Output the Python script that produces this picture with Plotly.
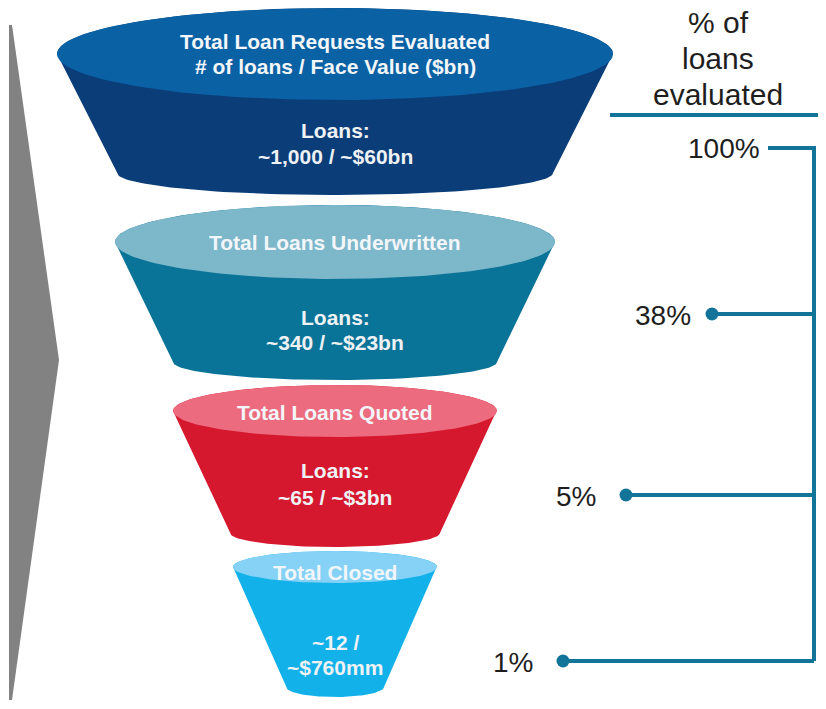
import numpy as np
import plotly.graph_objects as go

# ---- data ----
stage_titles = [["Total Loan Requests Evaluated", "# of loans / Face Value ($bn)"],
                ["Total Loans Underwritten"],
                ["Total Loans Quoted"],
                ["Total Closed"]]
stage_values = [["Loans:", "~1,000 / ~$60bn"],
                ["Loans:", "~340 / ~$23bn"],
                ["Loans:", "~65 / ~$3bn"],
                ["~12 /", "~$760mm"]]
pct_labels = ["100%", "38%", "5%", "1%"]
header_lines = ["% of", "loans", "evaluated"]

# ---- styling / geometry (pixel space) ----
W, H = 826, 709
OFF = 8  # page body margin
CX = 335
top_ell = [(54, 278, 46), (242, 220, 37), (411, 162, 26), (567, 102, 16)]   # cy, a, b
bot_ell = [(173, 218, 22), (362, 162, 18), (533, 105, 14), (687, 49, 10)]
top_cols = ["#0a61a4", "#7db7ca", "#ec6b7e", "#85d2f6"]
body_cols = ["#0b3d79", "#0a7398", "#d6182f", "#13b1ea"]
title_y = [[41, 66], [242], [412], [572]]
value_y = [[130, 156], [317, 342], [470, 497], [642, 667]]
pct_y = [148, 314, 495, 661]
pct_x_right = [None, 693, 598, 535]
dot_x = [None, 712, 626, 563]
LINE = "#13749a"
VX = 814
FONT = "Liberation Sans, Arial"

fig = go.Figure()

# gray chevron
fig.add_trace(go.Scatter(x=[9, 12, 59, 12, 9, 9], y=[25, 25, 360, 700, 700, 25],
                         fill="toself", fillcolor="#828282", mode="lines",
                         line=dict(width=0), hoverinfo="skip", showlegend=False))

for i in range(4):
    cyt, at, bt = top_ell[i]
    cyb, ab, bb = bot_ell[i]
    th = np.linspace(np.pi, 0, 80)
    bx = CX + ab * np.cos(th)
    by = cyb + bb * np.sin(th)
    tx = CX + at * np.cos(np.linspace(0, np.pi, 80))
    ty = cyt - bt * np.sin(np.linspace(0, np.pi, 80))
    xs = np.concatenate([[CX - at], bx, [CX + at], tx])
    ys = np.concatenate([[cyt], by, [cyt], ty])
    fig.add_trace(go.Scatter(x=xs, y=ys, fill="toself", fillcolor=body_cols[i],
                             mode="lines", line=dict(width=0), hoverinfo="skip",
                             showlegend=False))
    t = np.linspace(0, 2 * np.pi, 160)
    fig.add_trace(go.Scatter(x=CX + at * np.cos(t), y=cyt + bt * np.sin(t),
                             fill="toself", fillcolor=top_cols[i], mode="lines",
                             line=dict(width=0), hoverinfo="skip", showlegend=False))
    for line, y in zip(stage_titles[i], title_y[i]):
        fig.add_annotation(x=CX, y=y, text="<b>" + line + "</b>", showarrow=False,
                           font=dict(size=21, color="#f2f6fa", family=FONT),
                           xanchor="center", yanchor="middle")
    for line, y in zip(stage_values[i], value_y[i]):
        fig.add_annotation(x=CX, y=y, text="<b>" + line + "</b>", showarrow=False,
                           font=dict(size=21, color="#eef2f5", family=FONT),
                           xanchor="center", yanchor="middle")

# header
for line, y in zip(header_lines, [22, 58, 94]):
    fig.add_annotation(x=718, y=y, text=line, showarrow=False, borderpad=0,
                       font=dict(size=30, color="#1e1e1e", family=FONT),
                       xanchor="center", yanchor="middle")
fig.add_trace(go.Scatter(x=[610, 818], y=[115, 115], mode="lines",
                         line=dict(color=LINE, width=4), hoverinfo="skip", showlegend=False))

# bracket
fig.add_trace(go.Scatter(x=[768, VX, VX], y=[pct_y[0], pct_y[0], pct_y[3]], mode="lines",
                         line=dict(color=LINE, width=4), hoverinfo="skip", showlegend=False))
fig.add_annotation(x=724, y=pct_y[0], text=pct_labels[0], showarrow=False,
                   font=dict(size=28, color="#1e1e1e", family=FONT),
                   xanchor="center", yanchor="middle")
for i in range(1, 4):
    fig.add_trace(go.Scatter(x=[dot_x[i], VX], y=[pct_y[i], pct_y[i]], mode="lines",
                             line=dict(color=LINE, width=4), hoverinfo="skip", showlegend=False))
    fig.add_trace(go.Scatter(x=[dot_x[i]], y=[pct_y[i]], mode="markers",
                             marker=dict(color=LINE, size=13), hoverinfo="skip", showlegend=False))
    fig.add_annotation(x=pct_x_right[i], y=pct_y[i] + 1, text=pct_labels[i], showarrow=False,
                       font=dict(size=28, color="#1e1e1e", family=FONT),
                       xanchor="right", yanchor="middle")

fig.update_layout(width=W, height=H, margin=dict(l=0, r=0, t=0, b=0),
                  paper_bgcolor="white", plot_bgcolor="white",
                  xaxis=dict(range=[OFF, W + OFF], visible=False, fixedrange=True),
                  yaxis=dict(range=[H + OFF, OFF], visible=False, fixedrange=True),
                  showlegend=False)
fig.write_html("out.html", config={"displayModeBar": False})
